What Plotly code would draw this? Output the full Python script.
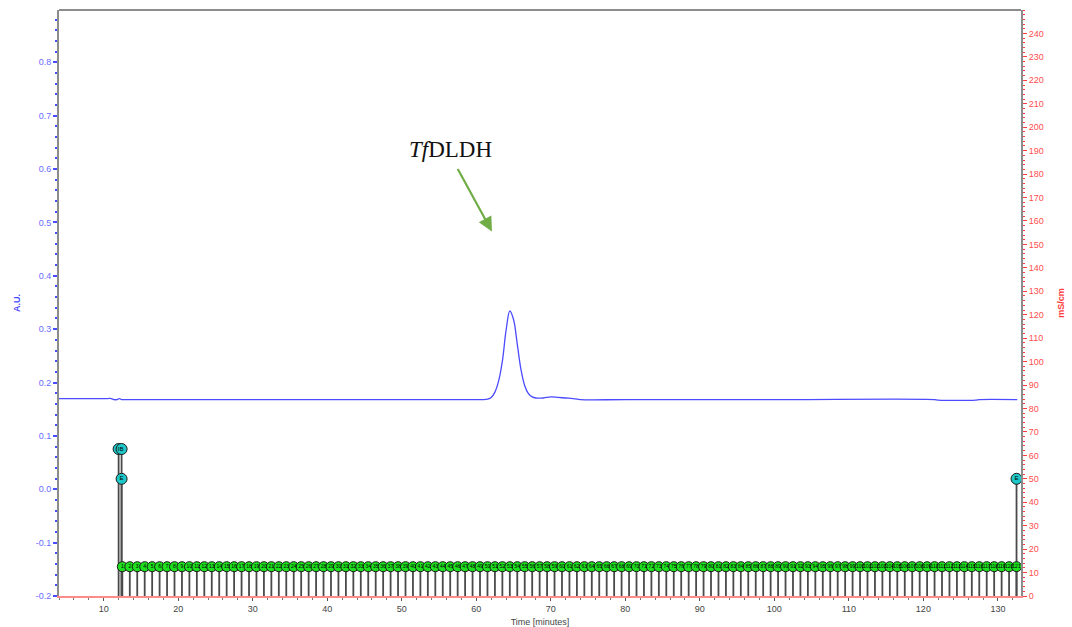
import plotly.graph_objects as go

# UV absorbance trace (minutes, A.U.)
uv_time = [4.0, 10.5, 11.0, 11.4, 11.8, 12.1, 12.4, 12.8, 14.0, 30.0, 50.0, 60.0, 61.0, 61.5, 62.0,
           62.5, 63.0, 63.5, 64.0, 64.5, 65.0, 65.5, 66.0, 66.5, 67.0, 67.5, 68.0,
           69.0, 70.0, 71.0, 72.0, 73.0, 74.0, 80.0, 100.0, 121.5, 122.0, 127.0, 127.5, 132.6]
uv_au = [0.170, 0.170, 0.170, 0.168, 0.168, 0.170, 0.168, 0.168, 0.168, 0.168, 0.168, 0.168, 0.168, 0.169, 0.172,
         0.182, 0.203, 0.240, 0.298, 0.334, 0.318, 0.272, 0.224, 0.194, 0.179, 0.173, 0.171,
         0.171, 0.173, 0.172, 0.171, 0.170, 0.168, 0.168, 0.168, 0.168, 0.167, 0.167, 0.168, 0.168]

# Fraction collector marks (minutes) plotted on the mS/cm axis
fraction_time = [12.5, 13.5, 14.5, 15.5, 16.5, 17.5, 18.5, 19.5, 20.5, 21.5,
                 22.5, 23.5, 24.5, 25.5, 26.5, 27.5, 28.5, 29.5, 30.5, 31.5,
                 32.5, 33.5, 34.5, 35.5, 36.5, 37.5, 38.5, 39.5, 40.5, 41.5,
                 42.5, 43.5, 44.5, 45.5, 46.5, 47.5, 48.5, 49.5, 50.5, 51.5,
                 52.5, 53.5, 54.5, 55.5, 56.5, 57.5, 58.5, 59.5, 60.5, 61.5,
                 62.5, 63.5, 64.5, 65.5, 66.5, 67.5, 68.5, 69.5, 70.5, 71.5,
                 72.5, 73.5, 74.5, 75.5, 76.5, 77.5, 78.5, 79.5, 80.5, 81.5,
                 82.5, 83.5, 84.5, 85.5, 86.5, 87.5, 88.5, 89.5, 90.5, 91.5,
                 92.5, 93.5, 94.5, 95.5, 96.5, 97.5, 98.5, 99.5, 100.5, 101.5,
                 102.5, 103.5, 104.5, 105.5, 106.5, 107.5, 108.5, 109.5, 110.5, 111.5,
                 112.5, 113.5, 114.5, 115.5, 116.5, 117.5, 118.5, 119.5, 120.5, 121.5,
                 122.5, 123.5, 124.5, 125.5, 126.5, 127.5, 128.5, 129.5, 130.5, 131.5,
                 132.5]
fraction_level = 12.5
fraction_labels = [str(n) for n in range(1, len(fraction_time) + 1)]

# Run events (minutes, mS/cm axis level, label)
event_time = [12.0, 12.4, 12.4, 132.5]
event_level = [62.7, 62.7, 50.0, 50.0]
event_labels = ["I", "B", "E", "E"]

# Axis tick values and labels
left_ticks = [-0.2, -0.1, 0.0, 0.1, 0.2, 0.3, 0.4, 0.5, 0.6, 0.7, 0.8]
left_labels = ["-0.2", "-0.1", "0.0", "0.1", "0.2", "0.3", "0.4", "0.5", "0.6", "0.7", "0.8"]
right_ticks = list(range(0, 250, 10))
x_ticks = [10, 20, 30, 40, 50, 60, 70, 80, 90, 100, 110, 120, 130]

BLUE = "#4b4bff"
RED = "#ff3b3b"
GREY = "#8c8c8c"

fig = go.Figure()

# stems for fractions and events
stem_x, stem_y = [], []
for t in fraction_time:
    stem_x += [t, t, None]
    stem_y += [0, fraction_level, None]
for t, lv in zip(event_time, event_level):
    stem_x += [t, t, None]
    stem_y += [0, lv, None]

fig.add_trace(go.Scatter(x=stem_x, y=stem_y, mode="lines", yaxis="y2",
                         line=dict(color="#4a4a4a", width=1.8), hoverinfo="skip",
                         showlegend=False))

fig.add_trace(go.Scatter(x=fraction_time, y=[fraction_level] * len(fraction_time),
                         mode="markers+text", yaxis="y2", text=fraction_labels,
                         textposition="middle center",
                         textfont=dict(size=5, color="#000000", family="Arial"),
                         marker=dict(size=10, color="#1ee01e",
                                     line=dict(color="#1a1a1a", width=1)),
                         showlegend=False))

fig.add_trace(go.Scatter(x=event_time, y=event_level, mode="markers+text", yaxis="y2",
                         text=event_labels, textposition="middle center",
                         textfont=dict(size=6, color="#000000", family="Arial"),
                         marker=dict(size=11, color="#1fc8c8",
                                     line=dict(color="#1a1a1a", width=1)),
                         showlegend=False))

fig.add_trace(go.Scatter(x=uv_time, y=uv_au, mode="lines", line_shape="spline",
                         line=dict(color=BLUE, width=1.3), showlegend=False))

tick_font = dict(family="Arial", size=9)

fig.update_layout(
    width=1072, height=627,
    margin=dict(l=59, r=51, t=10, b=31, autoexpand=False),
    paper_bgcolor="white", plot_bgcolor="white",
    xaxis=dict(range=[4.0, 133.1], tickvals=x_ticks, ticks="outside", ticklen=3,
               tickcolor="#555555", tickfont=dict(color="#444444", **tick_font),
               showgrid=False, zeroline=False, showline=True, automargin=False,
               linecolor="#ff8a8a", linewidth=1.5,
               minor=dict(dtick=2, ticks="outside", ticklen=2, tickcolor="#777777"),
               title=dict(text="Time [minutes]", font=dict(family="Arial", size=9, color="#444444"),
                          standoff=6)),
    yaxis=dict(range=[-0.2, 0.898], tickvals=left_ticks, ticktext=left_labels,
               ticks="outside", ticklen=4, tickcolor=BLUE, tickwidth=1.5,
               tickfont=dict(color="#6b6bff", **tick_font),
               showgrid=False, zeroline=False, showline=True, automargin=False,
               linecolor=GREY, linewidth=2,
               minor=dict(dtick=0.02, ticks="outside", ticklen=2, tickcolor=BLUE, tickwidth=1.5),
               title=dict(text="<b>A.U.</b>", font=dict(family="Arial", size=9, color=BLUE),
                          standoff=14)),
    yaxis2=dict(range=[0, 250], overlaying="y", side="right", tickvals=right_ticks,
                ticks="outside", ticklen=4, tickcolor=RED,
                tickfont=dict(color="#ff4d4d", **tick_font),
                showgrid=False, zeroline=False, showline=True, automargin=False,
                linecolor=GREY, linewidth=2,
                minor=dict(dtick=2, ticks="outside", ticklen=2, tickcolor=RED),
                title=dict(text="<b>mS/cm</b>", font=dict(family="Arial", size=9, color=RED),
                           standoff=15)),
    shapes=[dict(type="line", xref="paper", yref="paper", x0=0, x1=1, y0=1, y1=1,
                 line=dict(color=GREY, width=2))],
    annotations=[
        dict(x=56.6, y=0.637, xref="x", yref="y", showarrow=False,
             text="<i>Tf</i>DLDH",
             font=dict(family="Liberation Serif, Times New Roman, serif", size=23, color="#111111")),
        dict(x=62.1, y=0.483, xref="x", yref="y", ax=-35, ay=-64, axref="pixel", ayref="pixel",
             showarrow=True, arrowhead=2, arrowsize=1.3, arrowwidth=2.2, arrowcolor="#70ad47",
             text=""),
    ],
)

fig.write_html("out.html")
